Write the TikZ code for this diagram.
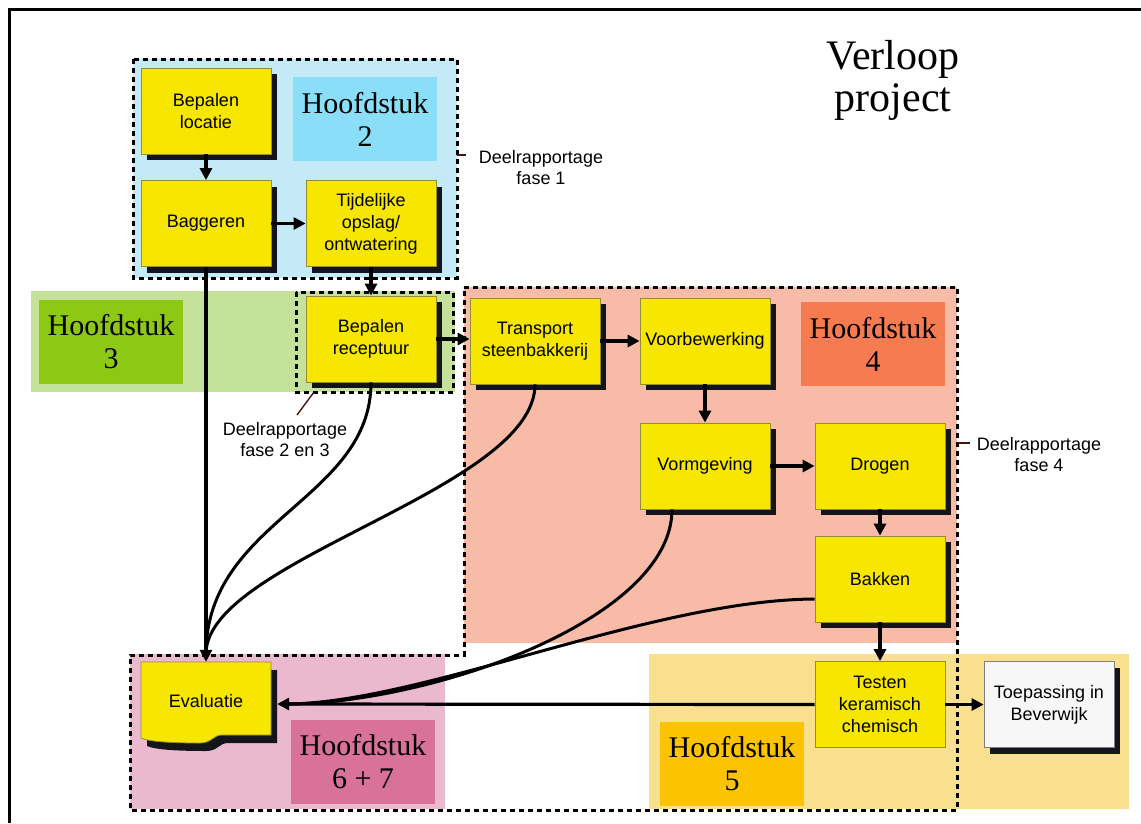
\documentclass[tikz,border=0pt]{standalone}
\usepackage{fontspec}
\setmainfont{Liberation Serif}
\newfontfamily\boxfont{Liberation Sans}
\usetikzlibrary{arrows.meta}
\definecolor{regBlue}{RGB}{197,234,247}
\definecolor{labBlue}{RGB}{139,222,248}
\definecolor{regGreen}{RGB}{197,226,154}
\definecolor{labGreen}{RGB}{141,200,20}
\definecolor{regRed}{RGB}{248,187,168}
\definecolor{labRed}{RGB}{247,123,80}
\definecolor{regPink}{RGB}{235,185,205}
\definecolor{labPink}{RGB}{217,114,153}
\definecolor{regYellow}{RGB}{249,224,142}
\definecolor{labYellow}{RGB}{252,196,0}
\definecolor{boxYellow}{RGB}{247,230,0}
\definecolor{boxEdge}{RGB}{150,140,50}
\definecolor{leadcol}{RGB}{70,20,20}
\definecolor{shadowcol}{RGB}{20,20,28}
\begin{document}
\begin{tikzpicture}[x=1pt,y=-1pt,
 procns/.style={draw=boxEdge, line width=0.8pt, fill=boxYellow, minimum width=130pt, minimum height=86pt, inner sep=1pt, align=center, font=\boxfont\fontsize{18}{22}\selectfont},
 proc/.style={procns, preaction={fill=shadowcol, draw=none, transform canvas={shift={(6pt,-6pt)}}}},
 hlab/.style={minimum width=144pt, minimum height=84pt, inner sep=0pt, align=center, font=\fontsize{30}{33}\selectfont},
 dashbox/.style={draw=black, line width=3pt, dash pattern=on 5pt off 4pt},
 conn/.style={line width=3.2pt, -{Triangle[length=12pt,width=12pt]}},
 curveline/.style={line width=3pt},
 leader/.style={draw=leadcol, line width=1.4pt},
 note/.style={font=\boxfont\fontsize{18}{21}\selectfont, align=center, inner sep=0pt}]
\useasboundingbox (0,0) rectangle (1141,823);
\fill[white] (0,0) rectangle (1141,823);
% frame
\draw[line width=3pt] (9,823) -- (9,9) -- (1141,9);
% title
\node[font=\fontsize{42}{42}\selectfont, align=center] (title) at (893,80) {Verloop\\project};
% regions
\fill[regBlue] (133,59) rectangle (457,278);
\fill[regGreen] (31,291) rectangle (455,392);
\fill[regRed] (464,287) rectangle (957,643);
\fill[regPink] (130,654) rectangle (445,809);
\fill[regYellow] (649,654) rectangle (1129,809);
% chapter labels
\node[hlab, fill=labBlue] (h2) at (365,119) {Hoofdstuk\\2};
\node[hlab, fill=labGreen] (h3) at (111,342) {Hoofdstuk\\3};
\node[hlab, fill=labRed] (h4) at (873,344) {Hoofdstuk\\4};
\node[hlab, fill=labPink] (h67) at (363,762) {Hoofdstuk\\6 + 7};
\node[hlab, fill=labYellow] (h5) at (732,764) {Hoofdstuk\\5};
% dashed outlines
\draw[dashbox] (133,59) rectangle (457,278);
\draw[dashbox] (296,292) rectangle (453,392);
\draw[dashbox] (464,287) -- (957,287) -- (957,810) -- (130,810) -- (130,655) -- (464,655) -- cycle;
% notes
\node[note] (d1) at (541,168) {Deelrapportage\\fase 1};
\node[note] (d23) at (285,440) {Deelrapportage\\fase 2 en 3};
\node[note] (d4) at (1039,455) {Deelrapportage\\fase 4};
\coordinate (l1a) at (457,155); \coordinate (l1b) at (466,155);
\coordinate (l23a) at (314,392); \coordinate (l23b) at (297,415);
\coordinate (l4a) at (958,443); \coordinate (l4b) at (970,443);
\draw[leader] (l1a) -- (l1b);
\draw[leader] (l23a) -- (l23b);
\draw[leader] (l4a) -- (l4b);
% process boxes
\node[proc] (loc) at (206,111) {Bepalen\\locatie};
\node[proc] (bag) at (206,223.5) {Baggeren};
\node[proc] (tij) at (371,223.5) {Tijdelijke\\opslag/\\ontwatering};
\node[proc] (rec) at (371,339) {Bepalen\\receptuur};
\node[proc] (tra) at (535,341) {Transport\\steenbakkerij};
\node[proc] (voo) at (705,341) {Voorbewerking};
\node[proc] (vor) at (705,466) {Vormgeving};
\node[proc] (dro) at (880,466) {Drogen};
\node[proc] (bak) at (880,579) {Bakken};
\node[procns] (tes) at (880,704.5) {Testen\\keramisch\\chemisch};
\node[proc, fill=white!97!black, draw=gray] (toe) at (1049,704.5) {Toepassing in\\Beverwijk};
% evaluation document shape
\fill[shadowcol, shift={(6,8)}] (141,662) -- (271,662) -- (271,735) -- (222,735) .. controls (213,735) and (212,743) .. (200,743) .. controls (175,743) and (150,742) .. (141,738) -- cycle;
\draw[boxEdge, line width=0.8pt, fill=boxYellow] (141,662) -- (271,662) -- (271,735) -- (222,735) .. controls (213,735) and (212,743) .. (200,743) .. controls (175,743) and (150,742) .. (141,738) -- cycle;
\node[minimum width=130pt, minimum height=84pt, inner sep=0pt, font=\boxfont\fontsize{18}{22}\selectfont] (eval) at (206,704) {\raisebox{6pt}{Evaluatie}};
% connectors
\draw[conn] (loc.south) -- (bag.north);
\draw[conn] (bag.east) -- (tij.west);
\draw[conn] (tij.south) -- (rec.north);
\draw[conn] (rec.east) -- (rec.east -| tra.west);
\draw[conn] (tra.east) -- (voo.west);
\draw[conn] (voo.south) -- (vor.north);
\draw[conn] (vor.east) -- (dro.west);
\draw[conn] (dro.south) -- (bak.north);
\draw[conn] (bak.south) -- (tes.north);
\draw[conn] (tes.east) -- (toe.west);
\draw[conn] (bag.south) -- (eval.north);
\draw[conn] (tes.west) -- ([xshift=6pt]eval.east);
\draw[curveline] (rec.south) .. controls (371,500) and (206,520) .. ([yshift=8pt]eval.north);
\draw[curveline] (tra.south) .. controls (535,490) and (206,560) .. ([yshift=8pt]eval.north);
\draw[curveline] ([xshift=-33pt]vor.south) .. controls (672,620) and (430,704) .. ([xshift=14pt]eval.east);
\draw[curveline] ([yshift=-20pt]bak.west) .. controls (650,600) and (420,704) .. ([xshift=14pt]eval.east);
\end{tikzpicture}
\end{document}
